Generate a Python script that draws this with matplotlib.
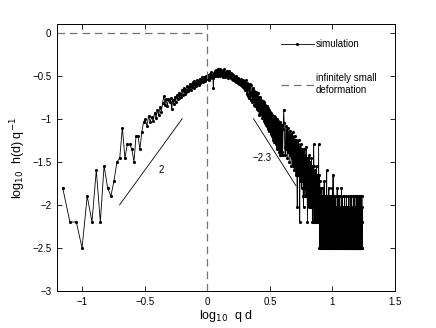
import numpy as np
import matplotlib
matplotlib.use("Agg")
import matplotlib.pyplot as plt

plt.rcParams['font.family'] = ['Liberation Sans', 'DejaVu Sans']

# ---- data: histogram counts h(d) at q*d = n/100 ----
count_norm = 316.2
seg_start = [7, 32, 100, 202, 404, 804]
seg_step = [1, 1, 1, 2, 4, 4]

counts_a = [5, 2, 2, 1, 4, 2, 8, 2, 9, 5, 4, 6, 10, 11, 25, 11, 16, 16, 14, 10,
            20, 20, 14, 22, 29]
counts_b = [31, 26, 34, 29, 33, 30, 37, 32, 40, 35,
            43, 38, 48, 58, 46, 54, 45, 53, 49, 55,
            41, 52, 47, 56, 50, 59, 53, 63, 55, 61,
            57, 68, 60, 72, 62, 69, 65, 75, 66, 73,
            70, 79, 68, 80, 74, 84, 71, 86, 77, 83,
            75, 89, 80, 87, 78, 92, 83, 90, 85, 96,
            84, 93, 88, 97, 86, 99, 91, 94]
counts_c = [97, 92, 101, 88, 99, 104, 95, 100, 110, 97,
            103, 94, 72, 108, 101, 112, 99, 106, 115, 98,
            109, 103, 118, 100, 111, 105, 121, 99, 112, 107,
            116, 101, 110, 96, 113, 104, 118, 102, 108, 97,
            111, 105, 99, 114, 101, 107, 94, 109, 103, 98,
            112, 96, 104, 100, 93, 106, 97, 102, 91, 105,
            96, 88, 101, 94, 99, 90, 97, 86, 95, 92,
            84, 98, 89, 93, 85, 91, 82, 94, 87, 80,
            90, 85, 79, 88, 83, 91, 78, 86, 81, 75,
            84, 80, 88, 74, 82, 77, 85, 72, 80, 76,
            79]
counts_d = [68, 88, 62, 82, 58, 80, 74, 55, 79, 63,
            52, 77, 60, 49, 72, 54, 68, 46, 66, 51,
            44, 65, 48, 41, 62, 45, 63, 40, 57, 35,
            55, 38, 56, 36, 52, 35, 50, 32, 51, 34,
            48, 30, 49, 32, 46, 28, 45, 27, 44, 26,
            43, 25, 42, 24, 40, 23, 39, 24, 38, 26,
            21, 37, 22, 35, 20, 34, 19, 33, 18, 34,
            22, 17, 33, 19, 31, 16, 30, 18, 31, 15,
            29, 14, 28, 17, 30, 15, 27, 13, 29, 16,
            12, 28, 14, 26, 15, 12, 27, 13, 25, 12]
counts_e = [24, 40, 28, 15, 12, 26, 14, 24, 11, 25,
            13, 22, 10, 23, 12, 21, 9, 20, 11, 22,
            9, 19, 10, 8, 20, 9, 18, 7, 17, 8,
            3, 16, 7, 18, 7, 15, 2, 14, 6, 16,
            6, 5, 14, 6, 13, 4, 3, 14, 5, 12,
            4, 12, 5, 15, 4, 11, 4, 2, 11, 4,
            10, 3, 12, 4, 3, 10, 3, 9, 3, 11,
            3, 8, 2, 9, 2, 7, 16, 9, 3, 7,
            2, 8, 2, 7, 6, 2, 9, 3, 7, 2,
            7, 2, 6, 16, 2, 7, 1, 6, 1, 5]
counts_f = [4, 1, 3, 2, 5, 1, 4, 2, 3, 1,
            5, 2, 1, 3, 6, 1, 2, 4, 1, 3,
            2, 1, 4, 2, 8, 1, 3, 2, 1, 4,
            2, 3, 1, 5, 2, 1, 3, 2, 4, 1,
            2, 3, 1, 4, 2, 1, 3, 1, 2, 5,
            1, 2, 7, 1, 3, 2, 1, 4, 2, 1,
            3, 2, 1, 2, 4, 1, 3, 1, 2, 3,
            1, 2, 5, 1, 3, 2, 1, 2, 4, 1,
            2, 3, 1, 2, 1, 4, 2, 1, 3, 2,
            1, 2, 3, 1, 5, 2, 1, 3, 1, 2,
            4, 1, 2, 3, 1, 2, 1, 3, 2, 1,
            2, 4, 1, 3, 2, 1, 2, 1, 3, 2,
            1, 2, 4, 1, 2, 3, 1, 2, 1, 3,
            2, 1, 3, 1, 2, 4, 1, 2, 3, 1,
            2, 1, 2, 3, 1, 4, 2, 1, 2, 1,
            3, 2, 1, 2, 4, 1, 2, 3, 1, 2,
            1, 3, 2, 1, 2, 1, 4, 2, 1, 3,
            2, 1, 2, 3, 1, 2, 4, 1, 2, 1,
            3, 2, 1, 2, 1, 3, 2, 4, 1, 2,
            1, 3, 2, 1, 4, 2, 1, 2, 3, 1,
            2, 1, 3, 2, 1, 2, 4, 1, 3, 2,
            1, 2, 1, 3, 2, 4, 1, 2, 1, 3,
            2, 1, 4, 2, 1, 3, 2, 1, 2, 4,
            1, 3]

# guide slopes: (x0, y0, x1, y1), label, label position
slope_lines = [(-0.70, -2.0, -0.20, -1.0), (0.37, -1.0, 0.71, -1.78)]
slope_labels = ["2", "\u22122.3"]
slope_label_pos = [(-0.37, -1.59), (0.44, -1.455)]

xticks = [-1, -0.5, 0, 0.5, 1, 1.5]
yticks = [0, -0.5, -1, -1.5, -2, -2.5, -3]

# ---- build series ----
segments = [counts_a, counts_b, counts_c, counts_d, counts_e, counts_f]
n_all, k_all = [], []
for s0, st, cnt in zip(seg_start, seg_step, segments):
    n_all.append(s0 + st * np.arange(len(cnt)))
    k_all.append(np.asarray(cnt, dtype=float))
n_all = np.concatenate(n_all)
k_all = np.concatenate(k_all)
x = np.log10(n_all / 100.0)
y = np.log10(k_all / count_norm)

fig = plt.figure(figsize=(4.36, 3.28), dpi=100)
ax = fig.add_axes([57 / 436, 1 - 291 / 328, 338 / 436, 267 / 328])

sim, = ax.plot(x, y, '-', color='k', lw=0.6, marker='.', ms=2.5,
               label='simulation')
dash, = ax.plot([-1.2, 0], [0, 0], linestyle=(0, (6, 4)), color='0.45',
                lw=0.9, label='infinitely small\ndeformation')
ax.plot([0, 0], [-3, 0.1], linestyle=(0, (6, 4)), color='0.45', lw=0.9)

for (x0, y0, x1, y1), lab, (tx, ty) in zip(slope_lines, slope_labels,
                                           slope_label_pos):
    ax.plot([x0, x1], [y0, y1], color='k', lw=0.6)
    ax.text(tx, ty, lab, fontsize=7, ha='center', va='center')

ax.set_xlim(-1.2, 1.5)
ax.set_ylim(-3, 0.1)
ax.set_xticks(xticks)
ax.set_xticklabels([f"{t:g}".replace('-', '\u2212') for t in xticks])
ax.set_yticks(yticks)
ax.set_yticklabels([f"{t:g}".replace('-', '\u2212') for t in yticks])
ax.tick_params(direction='in', top=True, right=True, length=3.5,
               width=0.6, labelsize=7, pad=4)
for sp in ax.spines.values():
    sp.set_linewidth(0.7)

ax.set_xlabel(r'log$_{10}$  q d', fontsize=9, labelpad=1)
ax.set_ylabel(r'log$_{10}$  h(d) q$^{-1}$', fontsize=9, labelpad=3)

leg = ax.legend(handles=[sim, dash], loc='upper left',
                bbox_to_anchor=(0.65, 0.958), frameon=False, fontsize=7,
                handlelength=3.4, handletextpad=0.2, labelspacing=2.5,
                numpoints=1, borderaxespad=0)

fig.savefig('out.png', dpi=100)
